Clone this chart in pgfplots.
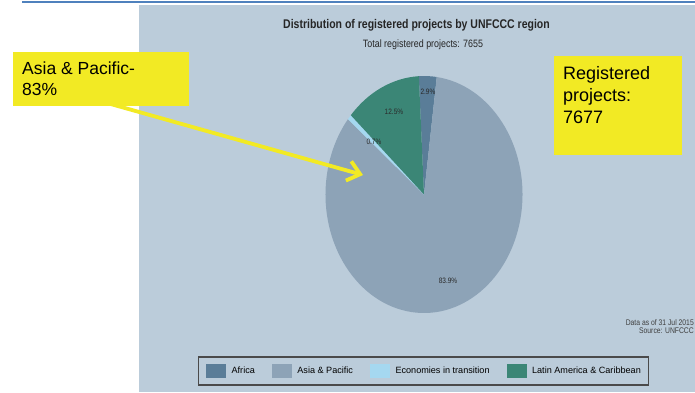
\documentclass[border=0pt]{standalone}
\usepackage{fontspec}
\setmainfont{Liberation Sans}
\usepackage{pgfplots}
\pgfplotsset{compat=1.18}
\usepackage{pgfplotstable}
\usetikzlibrary{arrows.meta}
\definecolor{panel}{HTML}{BBCCDA}
\definecolor{topblue}{HTML}{4F81BD}
\definecolor{callout}{HTML}{F2EA24}
\definecolor{africa}{HTML}{5A7D98}
\definecolor{asia}{HTML}{8DA3B7}
\definecolor{eit}{HTML}{A5D8F0}
\definecolor{lac}{HTML}{3B8676}
\definecolor{legborder}{HTML}{4A4A4A}
\definecolor{lbl}{HTML}{2A2A2A}

\pgfplotstableread{
region value
Africa 2.9
Asia 83.9
EIT 0.7
LAC 12.5
}\piedata

\begin{document}
\begin{tikzpicture}[x=1pt,y=1pt]
\pgfplotstablegetelem{0}{value}\of\piedata \let\vA\pgfplotsretval
\pgfplotstablegetelem{1}{value}\of\piedata \let\vB\pgfplotsretval
\pgfplotstablegetelem{2}{value}\of\piedata \let\vC\pgfplotsretval
\pgfplotstablegetelem{3}{value}\of\piedata \let\vD\pgfplotsretval
\pgfmathsetmacro\aZ{93}
\pgfmathsetmacro\aA{\aZ-3.6*\vA}
\pgfmathsetmacro\aB{\aA-3.6*\vB}
\pgfmathsetmacro\aC{\aB-3.6*\vC}
\pgfmathsetmacro\aD{\aC-3.6*\vD}
\fill[white] (0,0) rectangle (695,392);
\begin{scope}
\clip (0,0) rectangle (695,392);
\fill[panel] (139,0) rectangle (695,387);
\draw[topblue, line width=1.5pt] (22,390) -- (695,390);
\begin{axis}[
  at={(424pt,197.5pt)}, anchor=center, scale only axis,
  width=197pt, height=237pt,
  xmin=-1, xmax=1, ymin=-1, ymax=1, hide axis, clip=false,
  legend columns=4,
  legend image code/.code={\fill[#1, draw=none] (0pt,-7pt) rectangle (20pt,7pt);},
  legend style={at={(0.4975,-0.2447)}, anchor=center, draw=legborder,
    line width=1.2pt, fill=panel, font=\fontsize{9.1}{10}\selectfont,
    nodes={inner xsep=0pt, inner ysep=0pt},
    inner xsep=7.5pt, inner ysep=7pt,
    /tikz/every odd column/.append style={column sep=5.5pt},
    /tikz/every even column/.append style={column sep=17pt}},
]
\addlegendimage{fill=africa}\addlegendentry{Africa}
\addlegendimage{fill=asia}\addlegendentry{Asia \& Pacific}
\addlegendimage{fill=eit}\addlegendentry{Economies in transition}
\addlegendimage{fill=lac}\addlegendentry{Latin America \& Caribbean}
\fill[africa] (axis cs:0,0) -- (axis cs:{cos(\aZ)},{sin(\aZ)}) arc[start angle=\aZ, end angle=\aA, x radius=98.5pt, y radius=118.5pt] -- cycle;
\fill[asia] (axis cs:0,0) -- (axis cs:{cos(\aA)},{sin(\aA)}) arc[start angle=\aA, end angle=\aB, x radius=98.5pt, y radius=118.5pt] -- cycle;
\fill[eit] (axis cs:0,0) -- (axis cs:{cos(\aB)},{sin(\aB)}) arc[start angle=\aB, end angle=\aC, x radius=98.5pt, y radius=118.5pt] -- cycle;
\fill[lac] (axis cs:0,0) -- (axis cs:{cos(\aC)},{sin(\aC)}) arc[start angle=\aC, end angle=\aD, x radius=98.5pt, y radius=118.5pt] -- cycle;
\begin{scope}[every node/.style={font=\fontsize{6.5}{7}\selectfont, text=lbl, inner sep=0pt, yscale=1.2, transform shape}]
\node at (axis cs:0.04,0.865) {2.9\%};
\node at (axis cs:-0.305,0.696) {12.5\%};
\node at (axis cs:-0.508,0.443) {0.7\%};
\node at (axis cs:0.244,-0.73) {83.9\%};
\end{scope}
\end{axis}
\node[font=\bfseries\fontsize{10.5}{12}\selectfont, yscale=1.2, transform shape, text=black!85] at (416.5,367) {Distribution of registered projects by UNFCCC region};
\node[font=\fontsize{8.9}{10}\selectfont, yscale=1.2, transform shape, text=black!85] at (423,347) {Total registered projects: 7655};
\node[font=\fontsize{6.8}{8}\selectfont, anchor=east, inner sep=0pt, text=black!75, yscale=1.2, transform shape] at (694,69) {Data as of 31 Jul 2015};
\node[font=\fontsize{6.8}{8}\selectfont, anchor=east, inner sep=0pt, text=black!75, yscale=1.2, transform shape] at (694,61) {Source: UNFCCC};
% arrow
\draw[callout, line width=3.8pt, -{Straight Barb[length=12pt,width=20pt]}] (100,291) -- (363,217);
% callout boxes
\fill[callout] (13,286) rectangle (189,340);
\node[anchor=base west, inner sep=0pt, font=\fontsize{17.5}{21}\selectfont] at (22,318) {Asia \& Pacific-};
\node[anchor=base west, inner sep=0pt, font=\fontsize{17.5}{21}\selectfont] at (22,297) {83\%};
\fill[callout] (554,237) rectangle (682,336);
\node[anchor=base west, inner sep=0pt, font=\fontsize{18}{21}\selectfont] at (563,313) {Registered};
\node[anchor=base west, inner sep=0pt, font=\fontsize{18}{21}\selectfont] at (563,291) {projects:};
\node[anchor=base west, inner sep=0pt, font=\fontsize{18}{21}\selectfont] at (563,269) {7677};
\end{scope}
\pgfresetboundingbox
\useasboundingbox (0,0) rectangle (695,392);
\end{tikzpicture}
\end{document}
